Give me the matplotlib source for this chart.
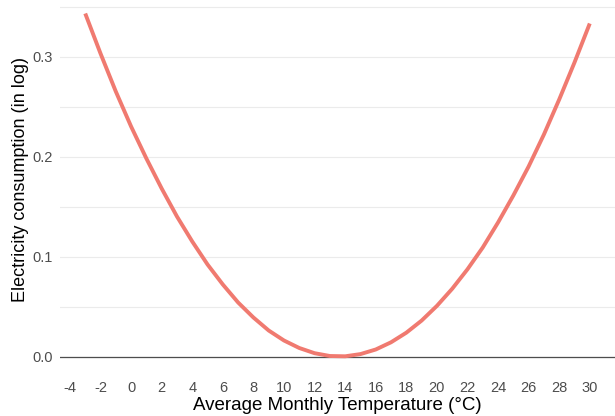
import matplotlib
matplotlib.use("Agg")
from matplotlib import pyplot as plt

# values
temperature = [-3, -2, -1, 0, 1, 2, 3, 4, 5, 6, 7, 8, 9, 10, 11, 12, 13, 14,
               15, 16, 17, 18, 19, 20, 21, 22, 23, 24, 25, 26, 27, 28, 29, 30]
consumption = [0.343, 0.303, 0.265, 0.230, 0.198, 0.168, 0.140, 0.115, 0.092,
               0.072, 0.054, 0.039, 0.026, 0.016, 0.0085, 0.0033, 0.0005,
               0.0002, 0.0024, 0.0070, 0.0142, 0.0238, 0.0359, 0.0506, 0.0677,
               0.0872, 0.109, 0.134, 0.161, 0.190, 0.222, 0.257, 0.294, 0.333]
x_ticks = list(range(-4, 31, 2))
y_ticks = [0.0, 0.1, 0.2, 0.3]
y_grid = [0.05, 0.15, 0.25, 0.35]

plt.rcParams['font.family'] = ['Liberation Sans', 'DejaVu Sans']

W, H = 615, 416
fig = plt.figure(figsize=(W / 100, H / 100), dpi=100)
ax = fig.add_axes([60 / W, 1 - 373 / H, 555 / W, 373 / H])

for g in y_ticks + y_grid:
    ax.axhline(g, color="#EBEBEB", lw=0.8, zorder=0)
ax.axhline(0, color="#4D4D4D", lw=0.9, zorder=1)

ax.plot(temperature, consumption, color="#F07A70", lw=2.8,
        solid_capstyle="butt", zorder=2)

ax.set_xlim(-4.65, 31.65)
ax.set_ylim(-0.0165, 0.3565)
ax.set_xticks(x_ticks)
ax.set_xticklabels([str(t) for t in x_ticks])
ax.set_yticks(y_ticks)
ax.set_yticklabels(["0.0", "0.1", "0.2", "0.3"])
ax.tick_params(axis="both", length=0, labelsize=10.5, labelcolor="#4D4D4D")
ax.tick_params(axis="x", pad=6)
ax.tick_params(axis="y", pad=5)
for s in ax.spines.values():
    s.set_visible(False)

fig.text(337 / W, 1 - 405 / H, "Average Monthly Temperature (°C)",
         fontsize=13.5, ha="center", va="center")
fig.text(21 / W, 1 - 180 / H, "Electricity consumption (in log)",
         fontsize=13, ha="center", va="center", rotation=90)

fig.savefig("out.png", dpi=100)
